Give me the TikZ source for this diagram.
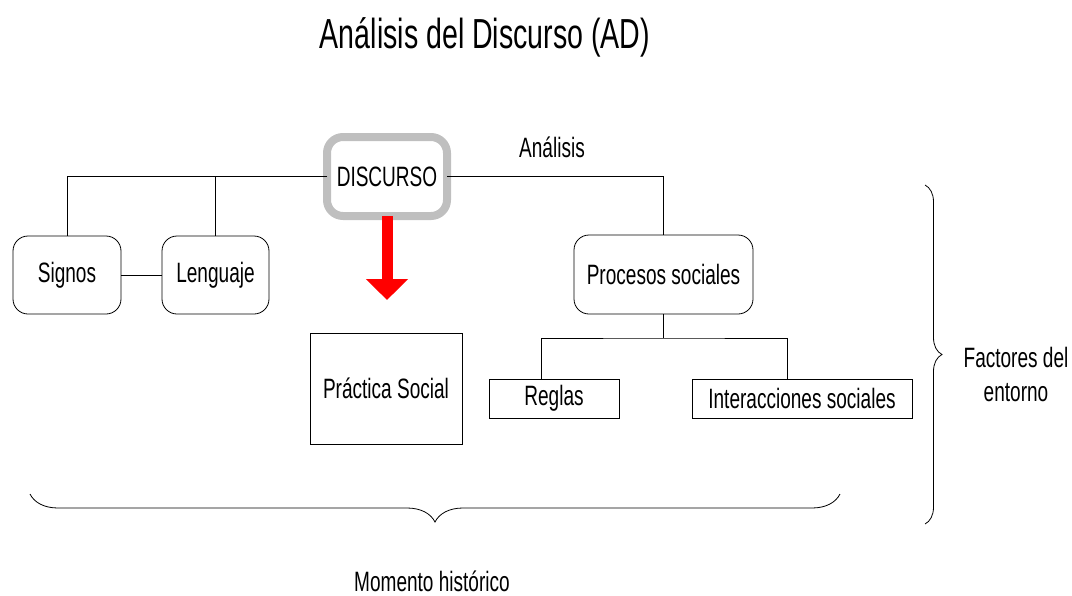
\documentclass[tikz,border=0pt]{standalone}
\usepackage{fontspec}
\setmainfont[FakeStretch=0.68]{Liberation Sans}
\usetikzlibrary{arrows.meta,decorations.pathreplacing}

\begin{document}
\begin{tikzpicture}[x=1pt, y=-1pt, line width=0.8pt,
  every node/.style={font=\fontsize{28}{34}\selectfont},
  roundbox/.style={draw, rounded corners=15pt, inner sep=0pt},
  flatbox/.style={draw, inner sep=0pt}]

\useasboundingbox (0,0) rectangle (1072,595);

\node[font=\fontsize{42}{46}\selectfont] (title) at (485,37) {Análisis del Discurso (AD)};

\node[roundbox, draw=black!25, line width=8pt, rounded corners=16pt, outer sep=0pt,
  minimum width=120pt, minimum height=79pt] (disc) at (387,176.5) {DISCURSO};
\node (analisis) at (552,147) {Análisis};

\node[roundbox, minimum width=108pt, minimum height=78pt] (signos) at (67,275) {Signos};
\node[roundbox, minimum width=107pt, minimum height=78pt] (leng) at (215.5,275) {Lenguaje};
\node[roundbox, minimum width=179pt, minimum height=79pt] (proc) at (663.5,274.5) {Procesos sociales};
\node[flatbox, minimum width=152pt, minimum height=111pt] (pract) at (386,388.5) {Práctica Social};
\node[flatbox, minimum width=130pt, minimum height=39pt] (reglas) at (554,398.5) {Reglas};
\node[flatbox, minimum width=220pt, minimum height=39pt] (inter) at (802,398.5) {Interacciones sociales};

\node[align=center] (factores) at (1016,374) {Factores del\\entorno};
\node (momento) at (432,581) {Momento histórico};

\draw (disc.west) -| (signos.north);
\draw (disc.west) -| (leng.north);
\draw (disc.east) -| (proc.north);
\draw (signos) -- (leng);

\coordinate (split) at (663.5,338);
\draw (proc.south) -- (split);
\draw (541,0 |- reglas.north) |- (split) -| (787,0 |- inter.north);

\draw[red, line width=11pt, -{Triangle[width=41pt,length=21pt]}] (disc.south) -- (387,300);

\draw[decorate, decoration={brace, amplitude=28pt}] (840,494) -- (30,494);
\draw[decorate, decoration={brace, amplitude=17pt}] (925,185) -- (925,524);

\end{tikzpicture}
\end{document}
